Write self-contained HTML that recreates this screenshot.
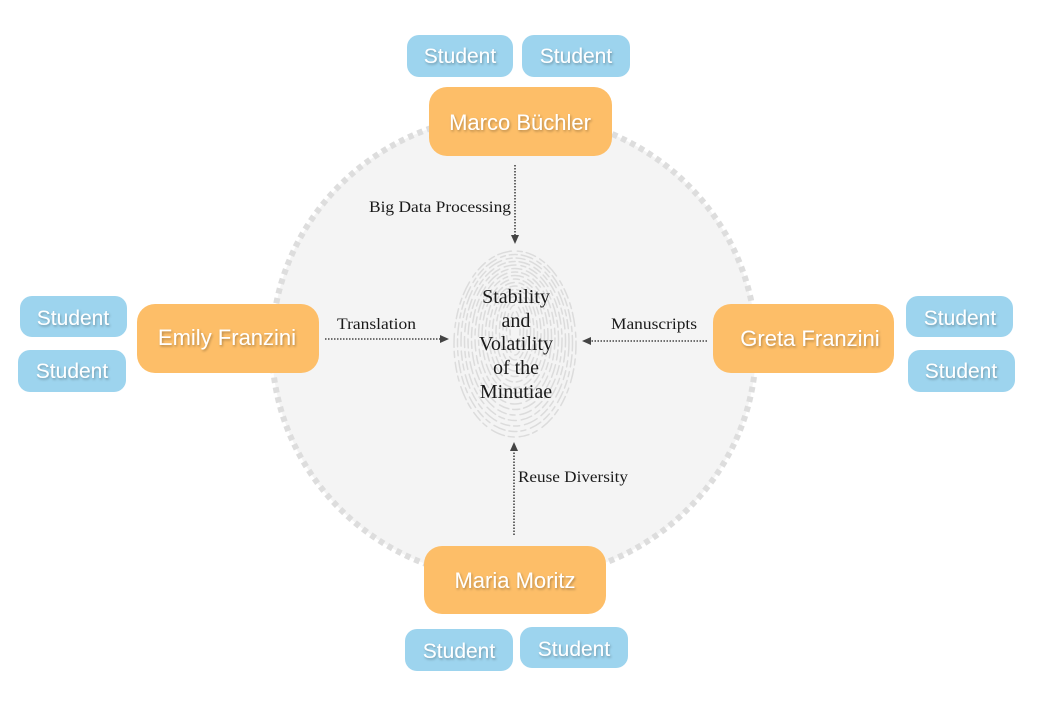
<!DOCTYPE html>
<html>
<head>
<meta charset="utf-8">
<style>
  html, body { margin: 0; padding: 0; background: #ffffff; }
  body { width: 1040px; height: 708px; overflow: hidden; }
  svg { display: block; }
  .nm { font-family: "Liberation Sans", Arial, sans-serif; fill: #ffffff; text-anchor: middle; }
  .lb { font-family: "Liberation Serif", "DejaVu Serif", serif; font-size: 16px; fill: #1a1a1a; }
  .ct { font-family: "Liberation Serif", "DejaVu Serif", serif; font-size: 20px; fill: #1a1a1a; text-anchor: middle; }
</style>
</head>
<body>
<svg width="1040" height="708" viewBox="0 0 1040 708" xmlns="http://www.w3.org/2000/svg">
  <defs>
    <filter id="ts" x="-10%" y="-30%" width="120%" height="160%">
      <feDropShadow dx="1" dy="1.5" stdDeviation="1.2" flood-color="#000" flood-opacity="0.3"/>
    </filter>
  </defs>

  <!-- big circle -->
  <ellipse cx="514" cy="347" rx="242" ry="233" fill="#f4f4f4" stroke="#dddddd" stroke-width="6" stroke-dasharray="5.5 4.5"/>

  <!-- fingerprint -->
  <g fill="none" stroke="#dcdcdc" stroke-width="1.5" stroke-linecap="round">
    <ellipse cx="515" cy="344" rx="61" ry="93" stroke-dasharray="10 5 6 4 14 6 5 4"/>
    <ellipse cx="515" cy="343" rx="57.5" ry="88.5" stroke-dasharray="8 4 12 5 5 4"/>
    <ellipse cx="515" cy="342" rx="54" ry="84" stroke-dasharray="14 5 6 4 9 5"/>
    <ellipse cx="515" cy="341" rx="50.5" ry="79.5" stroke-dasharray="6 4 11 5 8 4"/>
    <ellipse cx="515" cy="340" rx="47" ry="75" stroke-dasharray="12 5 5 4 9 5"/>
    <ellipse cx="515" cy="339" rx="43.5" ry="70.5" stroke-dasharray="7 4 10 5 13 4"/>
    <ellipse cx="515" cy="338" rx="40" ry="66" stroke-dasharray="11 5 6 4 8 5"/>
    <ellipse cx="515" cy="337" rx="36.5" ry="61.5" stroke-dasharray="5 4 12 5 7 4"/>
    <ellipse cx="515" cy="336" rx="33" ry="57" stroke-dasharray="9 5 6 4 11 5"/>
    <ellipse cx="515" cy="335" rx="29.5" ry="52.5" stroke-dasharray="8 4 9 5 5 4"/>
    <ellipse cx="515" cy="334" rx="26" ry="48" stroke-dasharray="10 5 6 4 7 5"/>
    <ellipse cx="515" cy="333" rx="22.5" ry="43.5" stroke-dasharray="7 4 9 5"/>
    <ellipse cx="515" cy="332" rx="19" ry="39" stroke-dasharray="8 5 6 4"/>
    <ellipse cx="515" cy="331" rx="15.5" ry="34.5" stroke-dasharray="7 4 5 5"/>
    <ellipse cx="515" cy="330" rx="12" ry="30" stroke-dasharray="6 4 8 5"/>
    <ellipse cx="515" cy="330" rx="8.5" ry="25" stroke-dasharray="6 5"/>
    <ellipse cx="515" cy="330" rx="5" ry="19" stroke-dasharray="5 4"/>
  </g>

  <!-- center text -->
  <text class="ct" x="516" y="303">Stability</text>
  <text class="ct" x="516" y="327">and</text>
  <text class="ct" x="516" y="350">Volatility</text>
  <text class="ct" x="516" y="374">of the</text>
  <text class="ct" x="516" y="398">Minutiae</text>

  <!-- connectors -->
  <g stroke="#444" stroke-width="1.6" stroke-dasharray="1.5 1.5" fill="none">
    <line x1="515" y1="165" x2="515" y2="236"/>
    <line x1="325" y1="339" x2="441" y2="339"/>
    <line x1="707" y1="341" x2="590" y2="341"/>
    <line x1="514" y1="535" x2="514" y2="450"/>
  </g>
  <g fill="#444">
    <polygon points="511,235 519,235 515,244"/>
    <polygon points="440,335 440,343 449,339"/>
    <polygon points="591,337 591,345 582,341"/>
    <polygon points="510,451 518,451 514,442"/>
  </g>

  <!-- connector labels -->
  <text class="lb" x="369" y="212" textLength="142" lengthAdjust="spacingAndGlyphs">Big Data Processing</text>
  <text class="lb" x="337" y="329" textLength="79" lengthAdjust="spacingAndGlyphs">Translation</text>
  <text class="lb" x="611" y="329" textLength="86" lengthAdjust="spacingAndGlyphs">Manuscripts</text>
  <text class="lb" x="518" y="482" textLength="110" lengthAdjust="spacingAndGlyphs">Reuse Diversity</text>

  <!-- student boxes -->
  <g fill="#9dd4ee">
    <rect x="407" y="35" width="106" height="42" rx="12"/>
    <rect x="522" y="35" width="108" height="42" rx="12"/>
    <rect x="20" y="296" width="107" height="41" rx="12"/>
    <rect x="18" y="350" width="108" height="42" rx="12"/>
    <rect x="906" y="296" width="107" height="41" rx="12"/>
    <rect x="908" y="350" width="107" height="42" rx="12"/>
    <rect x="405" y="629" width="108" height="42" rx="12"/>
    <rect x="520" y="627" width="108" height="41" rx="12"/>
  </g>

  <!-- name boxes -->
  <g fill="#fdbe68">
    <rect x="429" y="87" width="183" height="69" rx="18"/>
    <rect x="137" y="304" width="182" height="69" rx="18"/>
    <rect x="713" y="304" width="181" height="69" rx="18"/>
    <rect x="424" y="546" width="182" height="68" rx="18"/>
  </g>

  <!-- student text -->
  <g class="nm" font-size="21" filter="url(#ts)">
    <text x="460" y="63">Student</text>
    <text x="576" y="63">Student</text>
    <text x="73" y="325">Student</text>
    <text x="72" y="378">Student</text>
    <text x="960" y="325">Student</text>
    <text x="961" y="378">Student</text>
    <text x="459" y="658">Student</text>
    <text x="574" y="656">Student</text>
  </g>

  <!-- name text -->
  <g class="nm" font-size="22" filter="url(#ts)">
    <text x="520" y="130">Marco Büchler</text>
    <text x="227" y="345">Emily Franzini</text>
    <text x="810" y="346">Greta Franzini</text>
    <text x="515" y="588">Maria Moritz</text>
  </g>
</svg>
</body>
</html>
